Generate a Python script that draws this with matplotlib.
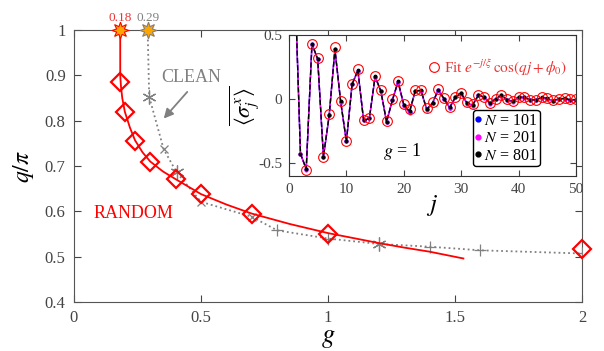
import numpy as np
import matplotlib
matplotlib.use("Agg")
import matplotlib.pyplot as plt

plt.rcParams['font.family'] = ['Liberation Serif', 'DejaVu Serif']
plt.rcParams['mathtext.fontset'] = 'stix'

# ---- main panel data ----
g_rand = [0.18, 0.2, 0.24, 0.3, 0.4, 0.5, 0.7, 1.0, 2.0]
q_rand = [0.885, 0.82, 0.755, 0.708, 0.672, 0.638, 0.594, 0.551, 0.518]

# fitted curve for RANDOM
g_fit = [0.182, 0.182, 0.185, 0.19, 0.2, 0.22, 0.24, 0.27, 0.3, 0.35, 0.4, 0.5,
         0.6, 0.7, 0.85, 1.0, 1.1, 1.2, 1.3, 1.4, 1.533]
q_fit = [1.0, 0.9, 0.875, 0.85, 0.82, 0.785, 0.757, 0.73, 0.71, 0.688, 0.671, 0.638,
         0.615, 0.595, 0.572, 0.552, 0.541, 0.53, 0.52, 0.511, 0.496]

g_clean = [0.29, 0.296, 0.353, 0.404, 0.5, 0.7, 0.8, 1.0, 1.2, 1.4, 1.6, 2.0]
q_clean = [1.0, 0.853, 0.737, 0.686, 0.621, 0.588, 0.558, 0.54, 0.528, 0.522, 0.514, 0.507]
mk_clean = ['', '*', 'x', '*', 'x', 'x', '+', '+', '*', '+', '+', '+']

g_crit = [0.18, 0.29]
crit_labels = ['0.18', '0.29']

# ---- inset data ----
j = np.arange(1, 51)
sx_801 = [0.95, -0.427, -0.544, 0.432, 0.312, -0.448, -0.128, 0.39, -0.018, -0.33,
          0.117, 0.224, -0.167, -0.151, 0.177, 0.063, -0.177, -0.01, 0.138, -0.044,
          -0.096, 0.065, 0.068, -0.078, -0.031, 0.073, 0.003, -0.065, 0.016, 0.047,
          -0.031, -0.044, 0.031, 0.016, -0.031, 0.0, 0.031, -0.005, -0.018, 0.016,
          0.016, -0.005, -0.005, 0.013, 0.005, -0.013, 0.003, 0.005, -0.005, -0.005]
sx_201 = [0.95, -0.427, -0.55, 0.425, 0.312, -0.455, -0.128, 0.385, -0.025, -0.33,
          0.117, 0.22, -0.167, -0.151, 0.172, 0.063, -0.18, -0.01, 0.132, -0.05,
          -0.11, 0.065, 0.06, -0.085, -0.031, 0.068, 0.003, -0.07, 0.016, 0.042,
          -0.035, -0.05, 0.031, 0.012, -0.035, 0.0, 0.028, -0.01, -0.02, 0.012,
          0.012, -0.01, -0.008, 0.01, 0.003, -0.015, 0.0, 0.003, -0.008, -0.008]
sx_101 = [0.95, -0.427, -0.544, 0.43, 0.312, -0.45, -0.128, 0.388, -0.02, -0.33,
          0.117, 0.222, -0.167, -0.151, 0.175, 0.063, -0.178, -0.01, 0.135, -0.046,
          -0.1, 0.065, 0.065, -0.08, -0.031, 0.07, 0.003, -0.066, 0.016, 0.045,
          -0.032, -0.046, 0.031, 0.014, -0.032, 0.0, 0.03, -0.006, -0.018, 0.014,
          0.014, -0.006, -0.006, 0.012, 0.004, -0.013, 0.002, 0.004, -0.006, -0.006]
j_fit = np.arange(3, 51)
sx_fit = [-0.55, 0.43, 0.32, -0.45, -0.12, 0.405, -0.015, -0.33,
          0.12, 0.235, -0.16, -0.145, 0.18, 0.07, -0.17, 0.0, 0.14, -0.035,
          -0.08, 0.07, 0.07, -0.07, -0.025, 0.075, 0.01, -0.06, 0.02, 0.05,
          -0.025, -0.04, 0.03, 0.018, -0.028, 0.003, 0.03, -0.003, -0.015, 0.015,
          0.016, -0.004, -0.004, 0.013, 0.006, -0.01, 0.004, 0.006, -0.003, -0.003]

axcol = '#444444'
fig = plt.figure(figsize=(6.04, 3.51), dpi=100)
ax = fig.add_axes([74/604, 49/351, 508/604, 272/351])

ax.plot(g_clean, q_clean, ':', color='gray', lw=1.3, zorder=2)
for g, q, m in zip(g_clean, q_clean, mk_clean):
    if m == '*':
        ax.plot(g, q, marker=(6, 2, 0), color='gray', ms=10, mew=0.9, zorder=3)
    elif m:
        ax.plot(g, q, m, color='gray', ms=8 if m != 'x' else 6, mew=0.9, zorder=3)
ax.plot(g_fit, q_fit, '-', color='red', lw=1.3, zorder=4)
ax.plot(g_rand, q_rand, 'D', mfc='none', mec='red', ms=9, mew=1.6, zorder=5,
        clip_on=False)

ax.plot(g_crit[0], 1.0, marker=(8, 1, 0), ms=12, mfc='orange', mec='red', mew=0.8,
        clip_on=False, zorder=6)
ax.plot(g_crit[1], 1.0, marker=(8, 1, 0), ms=12, mfc='orange', mec='gray', mew=0.8,
        clip_on=False, zorder=6)
ax.text(g_crit[0], 1.014, crit_labels[0], color='#e33', fontsize=9.5, ha='center', va='bottom')
ax.text(g_crit[1], 1.014, crit_labels[1], color='gray', fontsize=9.5, ha='center', va='bottom')

ax.text(0.46, 0.896, 'CLEAN', color='gray', fontsize=13, ha='center', va='center')
ax.annotate('', xy=(0.346, 0.80), xytext=(0.453, 0.868),
            arrowprops=dict(arrowstyle='-|>', color='gray', lw=1.3, mutation_scale=14))
ax.text(0.235, 0.596, 'RANDOM', color='red', fontsize=13, ha='center', va='center')

ax.set_xlim(0, 2)
ax.set_ylim(0.4, 1.0)
ax.set_xticks([0, 0.5, 1, 1.5, 2])
ax.set_xticklabels(['0', '0.5', '1', '1.5', '2'])
ax.set_yticks([0.4, 0.5, 0.6, 0.7, 0.8, 0.9, 1.0])
ax.set_yticklabels(['0.4', '0.5', '0.6', '0.7', '0.8', '0.9', '1'])
ax.tick_params(direction='in', top=True, right=True, labelsize=12, colors=axcol,
               length=5, pad=6)
for s in ax.spines.values():
    s.set_color('#555555')
ax.set_xlabel('$g$', fontsize=19, labelpad=1)
ax.set_ylabel(r'$q/\pi$', fontsize=17, labelpad=6)

# ---- inset ----
ins = fig.add_axes([289/604, 175/351, 287/604, 141/351])
ins.plot(j, sx_101, '-', color='blue', lw=1.0, marker='.', ms=4)
ins.plot(j, sx_201, '-', color='magenta', lw=1.0, marker='.', ms=4)
ins.plot(j, sx_801, '--', color='black', lw=1.0, marker='.', ms=3.5)
ins.plot(j_fit, sx_fit, 'o', mfc='none', mec='red', ms=7, mew=0.8)

h1, = ins.plot([], [], '.', color='blue', ms=7)
h2, = ins.plot([], [], '.', color='magenta', ms=7)
h3, = ins.plot([], [], '.', color='black', ms=7)
leg1 = ins.legend([h1, h2, h3], ['$N$ = 101', '$N$ = 201', '$N$ = 801'],
                  loc='lower right', bbox_to_anchor=(0.873, 0.07), fontsize=11.5,
                  handlelength=0.3, handletextpad=0.25, borderpad=0.15,
                  labelspacing=0.1, borderaxespad=0, fancybox=True, framealpha=1,
                  edgecolor='black')
ins.add_artist(leg1)
hf, = ins.plot([], [], 'o', mfc='none', mec='red', ms=7, mew=0.8)
ins.legend([hf], [r'Fit $e^{-j/\xi}\,\cos(qj+\phi_0)$'], loc='center right',
           bbox_to_anchor=(1.0, 0.77), frameon=False, fontsize=11,
           handlelength=0.6, handletextpad=0.3, labelcolor='#e33', borderaxespad=0.2)

ins.text(19.7, -0.406, '$g$ = 1', fontsize=13, ha='center', va='center')
ins.set_xlim(0, 50)
ins.set_ylim(-0.6, 0.5)
ins.set_xticks([0, 10, 20, 30, 40, 50])
ins.set_yticks([-0.5, 0, 0.5])
ins.set_yticklabels(['-0.5', '0', '0.5'])
ins.tick_params(direction='in', top=True, right=True, labelsize=11, colors=axcol,
                length=4, pad=5)
for s in ins.spines.values():
    s.set_color('#333333')
ins.set_xlabel('$j$', fontsize=18, labelpad=-2)
ins.set_ylabel(r'$\overline{\langle\sigma_j^x\rangle}$', fontsize=16, labelpad=-2)

fig.savefig('out.png', dpi=100)
